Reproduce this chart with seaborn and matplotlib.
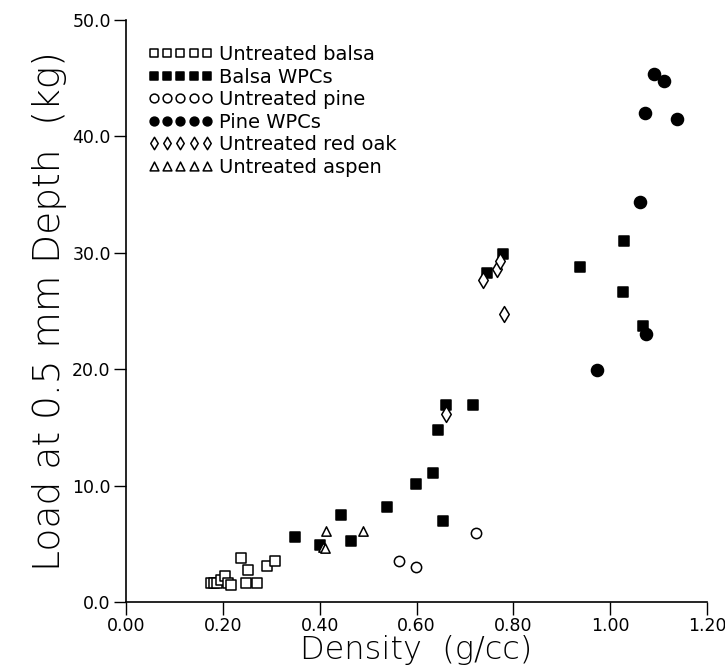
import matplotlib
matplotlib.use("Agg")
import matplotlib.pyplot as plt
import seaborn as sns
import pandas as pd
from matplotlib.ticker import FormatStrFormatter

sns.set_style("ticks")
plt.rcParams['font.family'] = ['DejaVu Sans']
plt.rcParams['text.color'] = 'black'
plt.rcParams['axes.labelcolor'] = 'black'

# ---- data (density g/cc, load kg) ----
balsa_x = [0.175, 0.181, 0.188, 0.196, 0.204, 0.211, 0.216, 0.237, 0.247, 0.252, 0.271, 0.291, 0.307]
balsa_y = [1.60, 1.60, 1.65, 1.90, 2.25, 1.65, 1.45, 3.80, 1.66, 2.75, 1.66, 3.10, 3.50]

balsa_wpc_x = [0.350, 0.400, 0.445, 0.465, 0.539, 0.598, 0.635, 0.644, 0.654, 0.661, 0.716,
               0.745, 0.778, 0.938, 1.027, 1.029, 1.068]
balsa_wpc_y = [5.6, 4.9, 7.5, 5.2, 8.2, 10.1, 11.1, 14.8, 7.0, 16.9, 16.9,
               28.3, 29.9, 28.75, 26.6, 31.0, 23.7]

pine_x = [0.563, 0.598, 0.723]
pine_y = [3.5, 2.98, 5.95]

pine_wpc_x = [0.973, 1.062, 1.072, 1.074, 1.091, 1.111, 1.137]
pine_wpc_y = [19.9, 34.4, 42.0, 23.0, 45.4, 44.8, 41.5]

oak_x = [0.661, 0.738, 0.766, 0.773, 0.780]
oak_y = [16.15, 27.7, 28.6, 29.3, 24.7]

aspen_x = [0.406, 0.412, 0.414, 0.489]
aspen_y = [4.7, 4.6, 6.1, 6.1]

groups = [
    ("Untreated balsa", balsa_x, balsa_y, "s", "white", 50),
    ("Balsa WPCs", balsa_wpc_x, balsa_wpc_y, "s", "black", 50),
    ("Untreated pine", pine_x, pine_y, "o", "white", 55),
    ("Pine WPCs", pine_wpc_x, pine_wpc_y, "o", "black", 75),
    ("Untreated red oak", oak_x, oak_y, "d", "white", 65),
    ("Untreated aspen", aspen_x, aspen_y, "^", "white", 45),
]

fig = plt.figure(figsize=(7.25, 6.72), dpi=100)
ax = fig.add_axes([0.1738, 0.1042, 0.8014, 0.866])

for name, xs, ys, mk, fc, s in groups:
    df = pd.DataFrame({"x": xs, "y": ys})
    sns.scatterplot(data=df, x="x", y="y", ax=ax, marker=mk, s=s,
                    facecolor=fc, edgecolor="black", linewidth=1.1,
                    label=name, clip_on=False, zorder=3)

ax.set_xlim(0, 1.2)
ax.set_ylim(0, 50)
ax.set_xticks([0, 0.2, 0.4, 0.6, 0.8, 1.0, 1.2])
ax.set_yticks([0, 10, 20, 30, 40, 50])
ax.xaxis.set_major_formatter(FormatStrFormatter("%.2f"))
ax.yaxis.set_major_formatter(FormatStrFormatter("%.1f"))
ax.tick_params(axis="both", direction="out", length=9, width=1.0,
               labelsize=12.5, colors="black", pad=2)
for side in ["top", "right"]:
    ax.spines[side].set_visible(False)
for side in ["left", "bottom"]:
    ax.spines[side].set_linewidth(1.2)
    ax.spines[side].set_color("black")

ax.set_xlabel("Density  (g/cc)", fontsize=23, labelpad=0, fontweight="light", color="black")
ax.set_ylabel("Load at 0.5 mm Depth  (kg)", fontsize=27, labelpad=4, fontweight="light", color="black")

leg = ax.legend(loc="upper left", bbox_to_anchor=(0.025, 0.97), frameon=False,
                scatterpoints=5, scatteryoffsets=[0.5], fontsize=14,
                handlelength=3.3, handletextpad=0.35, labelspacing=0.18,
                borderaxespad=0.0)
for h in leg.legend_handles:
    h.set_sizes([40])
for t in leg.get_texts():
    t.set_color("black")

fig.savefig("out.png", dpi=100, facecolor="white")
